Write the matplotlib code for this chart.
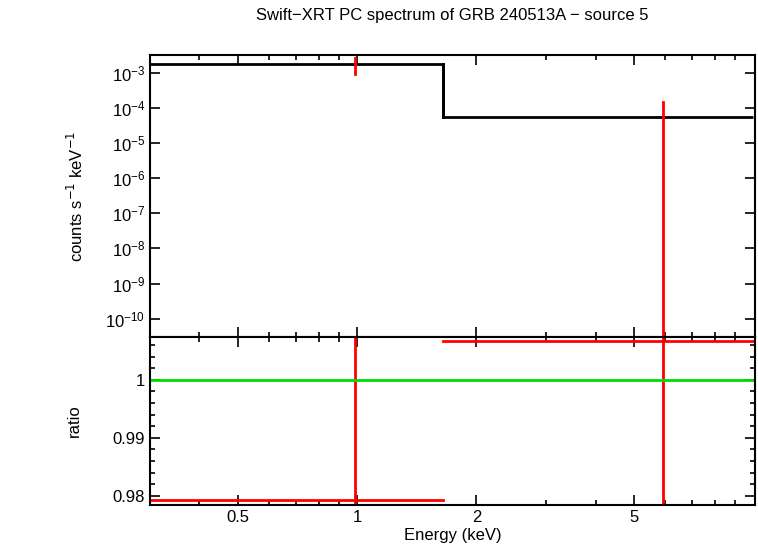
import matplotlib
matplotlib.use("Agg")
import matplotlib.pyplot as plt
import numpy as np
from matplotlib.ticker import FixedLocator, NullFormatter, LogLocator, NullLocator

plt.rcParams['font.family'] = 'Liberation Sans'

# data
bin_lo = [0.3, 1.65]
bin_hi = [1.65, 10.0]
model = [1.8e-3, 5.5e-5]
pt_x = [0.99, 5.9]
pt_y = [1.8e-3, 5.5e-5]
pt_ylo = [9e-4, 1e-12]
pt_yhi = [2.6e-3, 1.5e-4]
ratio = [0.9793, 1.0067]
ratio_lo = [0.97, 0.97]
ratio_hi = [1.02, 1.02]

fig = plt.figure(figsize=(7.58, 5.56), dpi=100)
W, H = 758, 556
ax1 = fig.add_axes([150/W, 1-337/H, 605/W, 282/H])
ax2 = fig.add_axes([150/W, 1-505/H, 605/W, 168/H], sharex=ax1)

edges = bin_lo + [bin_hi[-1]]
ax1.stairs(model, edges, color='black', lw=2, baseline=None)
ax1.plot([bin_hi[0]]*2, model, color='black', lw=2)
for x, y, l, h in zip(pt_x, pt_y, pt_ylo, pt_yhi):
    ax1.plot([x, x], [l, h], color='red', lw=2)
ax1.set_xscale('log'); ax1.set_yscale('log')
ax1.set_xlim(0.3, 10.1)
ax1.set_ylim(3e-11, 3.2e-3)
ax1.yaxis.set_major_locator(LogLocator(base=10, numticks=20))
ax1.yaxis.set_minor_locator(NullLocator())
ax1.set_ylabel('counts s$^{-1}$ keV$^{-1}$', fontsize=12, labelpad=14)
ax1.tick_params(labelbottom=False)

for lo, hi, r, x, l, h in zip(bin_lo, bin_hi, ratio, pt_x, ratio_lo, ratio_hi):
    ax2.plot([lo, hi], [r, r], color='red', lw=2)
    ax2.plot([x, x], [l, h], color='red', lw=2)
ax2.axhline(1.0, color='#00dd00', lw=2)
ax2.set_ylim(0.9784, 1.0074)
ax2.set_yticks([0.98, 0.99, 1.0])
ax2.set_yticklabels(['0.98', '0.99', '1'])
ax2.set_xticks([0.5, 1, 2, 5])
ax2.set_xticklabels(['0.5', '1', '2', '5'])
ax2.xaxis.set_minor_formatter(NullFormatter())
ax2.set_ylabel('ratio', fontsize=12, labelpad=22)
ax2.set_xlabel('Energy (keV)', fontsize=12, labelpad=2)

for ax in (ax1, ax2):
    ax.tick_params(which='both', direction='in', top=True, right=True, labelsize=12)
    ax.tick_params(which='major', length=7, width=1.2)
    ax.tick_params(which='minor', length=3.5, width=1.2)
    for s in ax.spines.values():
        s.set_linewidth(1.5)
ax2.yaxis.set_minor_locator(FixedLocator(np.arange(0.978, 1.008, 0.002)))

fig.suptitle('Swift\u2212XRT PC spectrum of GRB 240513A \u2212 source 5', x=(150+755)/2/W, y=1-8/H, fontsize=12)
fig.savefig('out.png', dpi=100)
